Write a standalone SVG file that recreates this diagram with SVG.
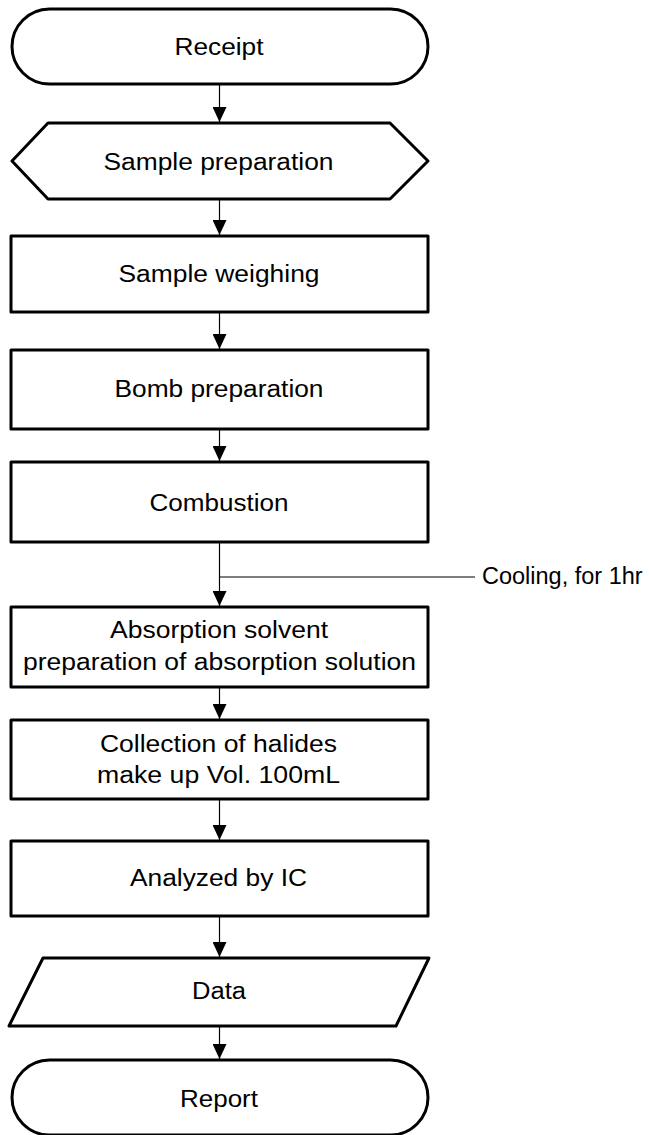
<svg xmlns="http://www.w3.org/2000/svg" width="649" height="1135" viewBox="0 0 649 1135">
<style>
.shape{fill:#fff;stroke:#000;stroke-width:3;stroke-linejoin:round}
.lbl{font-family:"Liberation Sans",Arial,sans-serif;font-size:23.5px;fill:#000;text-anchor:middle}
.note{font-family:"Liberation Sans",Arial,sans-serif;font-size:23.5px;fill:#000}
.conn{stroke:#000;stroke-width:1.2;fill:none}
</style>
<defs>
<marker id="arr" markerUnits="userSpaceOnUse" markerWidth="15" markerHeight="14" refX="15" refY="7" orient="auto">
<path d="M0,0 L15,7 L0,14 z" fill="#000"/>
</marker>
</defs>
<g id="connectors">
<line class="conn" x1="219.5" y1="84" x2="219.5" y2="122" marker-end="url(#arr)"/>
<line class="conn" x1="219.5" y1="199" x2="219.5" y2="235" marker-end="url(#arr)"/>
<line class="conn" x1="219.5" y1="312" x2="219.5" y2="349" marker-end="url(#arr)"/>
<line class="conn" x1="219.5" y1="429" x2="219.5" y2="461" marker-end="url(#arr)"/>
<line class="conn" x1="219.5" y1="542" x2="219.5" y2="606" marker-end="url(#arr)"/>
<line class="conn" x1="219.5" y1="577" x2="475" y2="577"/>
<line class="conn" x1="219.5" y1="687" x2="219.5" y2="719" marker-end="url(#arr)"/>
<line class="conn" x1="219.5" y1="799" x2="219.5" y2="840" marker-end="url(#arr)"/>
<line class="conn" x1="219.5" y1="916" x2="219.5" y2="957" marker-end="url(#arr)"/>
<line class="conn" x1="219.5" y1="1026" x2="219.5" y2="1059" marker-end="url(#arr)"/>
<text class="note" x="482" y="584">Cooling, for 1hr</text>
</g>
<g id="receipt">
<rect class="shape" x="12" y="9" width="416" height="75" rx="37.5" ry="37.5"/>
<text class="lbl" x="219" y="55" textLength="89" lengthAdjust="spacingAndGlyphs">Receipt</text>
</g>
<g id="sample-preparation">
<polygon class="shape" points="12,161 48,123 390,123 428,161 390,199 48,199"/>
<text class="lbl" x="218.5" y="170" textLength="230" lengthAdjust="spacingAndGlyphs">Sample preparation</text>
</g>
<g id="sample-weighing">
<rect class="shape" x="11" y="236" width="417" height="76"/>
<text class="lbl" x="219" y="282" textLength="201" lengthAdjust="spacingAndGlyphs">Sample weighing</text>
</g>
<g id="bomb-preparation">
<rect class="shape" x="11" y="350" width="417" height="79"/>
<text class="lbl" x="219" y="397" textLength="209" lengthAdjust="spacingAndGlyphs">Bomb preparation</text>
</g>
<g id="combustion">
<rect class="shape" x="11" y="462" width="417" height="80"/>
<text class="lbl" x="219" y="511" textLength="139" lengthAdjust="spacingAndGlyphs">Combustion</text>
</g>
<g id="absorption">
<rect class="shape" x="11" y="607" width="417" height="80"/>
<text class="lbl" x="219" y="638" textLength="218" lengthAdjust="spacingAndGlyphs">Absorption solvent</text>
<text class="lbl" x="219.5" y="670" textLength="393" lengthAdjust="spacingAndGlyphs">preparation of absorption solution</text>
</g>
<g id="collection">
<rect class="shape" x="11" y="720" width="417" height="79"/>
<text class="lbl" x="218.5" y="752" textLength="237" lengthAdjust="spacingAndGlyphs">Collection of halides</text>
<text class="lbl" x="218.5" y="783" textLength="243" lengthAdjust="spacingAndGlyphs">make up Vol. 100mL</text>
</g>
<g id="analyzed">
<rect class="shape" x="11" y="841" width="417" height="75"/>
<text class="lbl" x="218.5" y="886" textLength="177" lengthAdjust="spacingAndGlyphs">Analyzed by IC</text>
</g>
<g id="data">
<polygon class="shape" points="43,958 429,958 396,1026 9,1026"/>
<text class="lbl" x="219" y="999" textLength="54" lengthAdjust="spacingAndGlyphs">Data</text>
</g>
<g id="report">
<rect class="shape" x="12" y="1060" width="416" height="75" rx="37.5" ry="37.5"/>
<text class="lbl" x="219" y="1107" textLength="78" lengthAdjust="spacingAndGlyphs">Report</text>
</g>
</svg>
